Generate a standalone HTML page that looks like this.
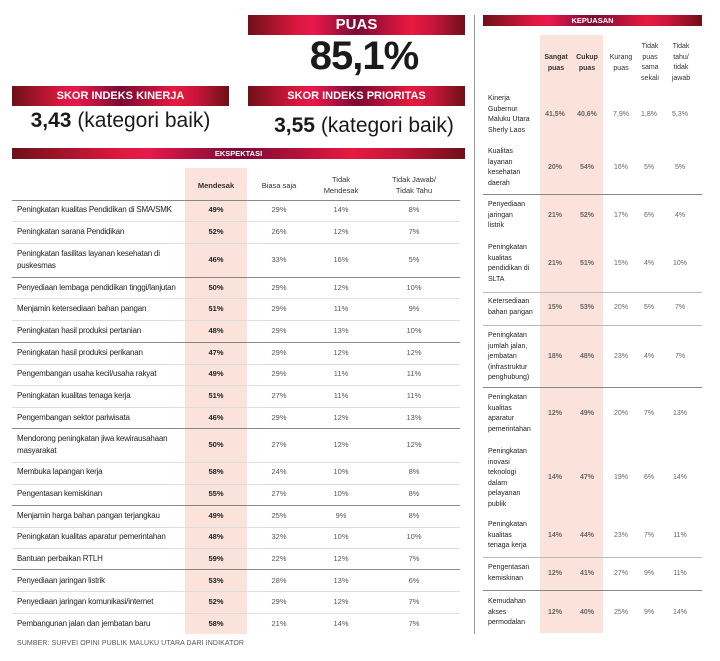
<!DOCTYPE html>
<html><head><meta charset="utf-8"><style>
*{margin:0;padding:0;box-sizing:border-box}
body{width:720px;height:661px;background:#fff;position:relative;overflow:hidden;font-family:"Liberation Sans",sans-serif;color:#1a1a1a}
.a{position:absolute}
.ban{position:absolute;background:linear-gradient(90deg,#6e1018 0%,#d8173c 22%,#e8194a 30%,#7a0a35 50%,#e8193f 75%,#c8153a 85%,#6e1018 100%);color:#fff;font-weight:bold;text-align:center}
.pk{position:absolute;background:#fbe3db}
.ln{position:absolute;height:1px;background:#ddd}
.dk{background:#888}
.l{position:absolute;left:17px;font-size:8px;line-height:12px;letter-spacing:-0.2px;color:#222}
.v{position:absolute;font-size:7.5px;line-height:12px;text-align:center;width:50px;color:#555}
.b{font-weight:bold;color:#222}
.h{position:absolute;font-size:7.5px;line-height:11px;text-align:center;color:#333}
.rl{position:absolute;left:488px;font-size:7px;line-height:10.5px;color:#222;width:50px}
.rv{position:absolute;font-size:7px;line-height:10px;text-align:center;width:30px;color:#666}
</style></head><body>
<div class="ban" style="left:248px;top:15px;width:217px;height:20px;font-size:15px;line-height:20px">PUAS</div>
<div class="a" style="left:248px;top:35px;width:232px;text-align:center;font-size:40px;font-weight:bold;line-height:42px;letter-spacing:-1px">85,1%</div>
<div class="ban" style="left:12px;top:86px;width:217px;height:20px;font-size:11px;line-height:20px">SKOR INDEKS KINERJA</div>
<div class="ban" style="left:248px;top:86px;width:217px;height:20px;font-size:11px;line-height:20px">SKOR INDEKS PRIORITAS</div>
<div class="a" style="left:12px;top:108px;width:217px;text-align:center;font-size:21px;line-height:26px"><b>3,43</b> (kategori baik)</div>
<div class="a" style="left:248px;top:113px;width:232px;text-align:center;font-size:21px;line-height:26px"><b>3,55</b> (kategori baik)</div>
<div class="ban" style="left:12px;top:148px;width:453px;height:11px;font-size:7.5px;line-height:11px">EKSPEKTASI</div>
<div class="a" style="left:474px;top:15px;width:1px;height:619px;background:#999"></div>

<div class="pk" style="left:185px;top:168px;width:62px;height:466px"></div>
<div class="h b" style="left:191px;top:180px;width:50px">Mendesak</div>
<div class="h" style="left:254px;top:180px;width:50px">Biasa saja</div>
<div class="h" style="left:311px;top:174px;width:60px">Tidak<br>Mendesak</div>
<div class="h" style="left:379px;top:174px;width:70px">Tidak Jawab/<br>Tidak Tahu</div>
<div class="ln dk" style="left:12px;top:200px;width:448px"></div>
<div class="ln" style="left:12px;top:221px;width:448px"></div>
<div class="ln" style="left:12px;top:243px;width:448px"></div>
<div class="ln dk" style="left:12px;top:277px;width:448px"></div>
<div class="ln" style="left:12px;top:298px;width:448px"></div>
<div class="ln" style="left:12px;top:320px;width:448px"></div>
<div class="ln dk" style="left:12px;top:342px;width:448px"></div>
<div class="ln" style="left:12px;top:364px;width:448px"></div>
<div class="ln" style="left:12px;top:385px;width:448px"></div>
<div class="ln" style="left:12px;top:407px;width:448px"></div>
<div class="ln dk" style="left:12px;top:428px;width:448px"></div>
<div class="ln" style="left:12px;top:462px;width:448px"></div>
<div class="ln" style="left:12px;top:484px;width:448px"></div>
<div class="ln dk" style="left:12px;top:505px;width:448px"></div>
<div class="ln" style="left:12px;top:527px;width:448px"></div>
<div class="ln" style="left:12px;top:548px;width:448px"></div>
<div class="ln dk" style="left:12px;top:569px;width:448px"></div>
<div class="ln" style="left:12px;top:591px;width:448px"></div>
<div class="ln" style="left:12px;top:613px;width:448px"></div>

<div class="l" style="top:204px">Peningkatan kualitas Pendidikan di SMA/SMK</div><div class="v b" style="left:191px;top:204px">49%</div><div class="v" style="left:254px;top:204px">29%</div><div class="v" style="left:316px;top:204px">14%</div><div class="v" style="left:389px;top:204px">8%</div>
<div class="l" style="top:226px">Peningkatan sarana Pendidikan</div><div class="v b" style="left:191px;top:226px">52%</div><div class="v" style="left:254px;top:226px">26%</div><div class="v" style="left:316px;top:226px">12%</div><div class="v" style="left:389px;top:226px">7%</div>
<div class="l" style="top:248px">Peningkatan fasilitas layanan kesehatan di<br>puskesmas</div><div class="v b" style="left:191px;top:254px">46%</div><div class="v" style="left:254px;top:254px">33%</div><div class="v" style="left:316px;top:254px">16%</div><div class="v" style="left:389px;top:254px">5%</div>
<div class="l" style="top:282px">Penyediaan lembaga pendidikan tinggi/lanjutan</div><div class="v b" style="left:191px;top:282px">50%</div><div class="v" style="left:254px;top:282px">29%</div><div class="v" style="left:316px;top:282px">12%</div><div class="v" style="left:389px;top:282px">10%</div>
<div class="l" style="top:303px">Menjamin ketersediaan bahan pangan</div><div class="v b" style="left:191px;top:303px">51%</div><div class="v" style="left:254px;top:303px">29%</div><div class="v" style="left:316px;top:303px">11%</div><div class="v" style="left:389px;top:303px">9%</div>
<div class="l" style="top:325px">Peningkatan hasil produksi pertanian</div><div class="v b" style="left:191px;top:325px">48%</div><div class="v" style="left:254px;top:325px">29%</div><div class="v" style="left:316px;top:325px">13%</div><div class="v" style="left:389px;top:325px">10%</div>
<div class="l" style="top:347px">Peningkatan hasil produksi perikanan</div><div class="v b" style="left:191px;top:347px">47%</div><div class="v" style="left:254px;top:347px">29%</div><div class="v" style="left:316px;top:347px">12%</div><div class="v" style="left:389px;top:347px">12%</div>
<div class="l" style="top:368px">Pengembangan usaha kecil/usaha rakyat</div><div class="v b" style="left:191px;top:368px">49%</div><div class="v" style="left:254px;top:368px">29%</div><div class="v" style="left:316px;top:368px">11%</div><div class="v" style="left:389px;top:368px">11%</div>
<div class="l" style="top:390px">Peningkatan kualitas tenaga kerja</div><div class="v b" style="left:191px;top:390px">51%</div><div class="v" style="left:254px;top:390px">27%</div><div class="v" style="left:316px;top:390px">11%</div><div class="v" style="left:389px;top:390px">11%</div>
<div class="l" style="top:412px">Pengembangan sektor pariwisata</div><div class="v b" style="left:191px;top:412px">46%</div><div class="v" style="left:254px;top:412px">29%</div><div class="v" style="left:316px;top:412px">12%</div><div class="v" style="left:389px;top:412px">13%</div>
<div class="l" style="top:433px">Mendorong peningkatan jiwa kewirausahaan<br>masyarakat</div><div class="v b" style="left:191px;top:439px">50%</div><div class="v" style="left:254px;top:439px">27%</div><div class="v" style="left:316px;top:439px">12%</div><div class="v" style="left:389px;top:439px">12%</div>
<div class="l" style="top:466px">Membuka lapangan kerja</div><div class="v b" style="left:191px;top:466px">58%</div><div class="v" style="left:254px;top:466px">24%</div><div class="v" style="left:316px;top:466px">10%</div><div class="v" style="left:389px;top:466px">8%</div>
<div class="l" style="top:488px">Pengentasan kemiskinan</div><div class="v b" style="left:191px;top:488px">55%</div><div class="v" style="left:254px;top:488px">27%</div><div class="v" style="left:316px;top:488px">10%</div><div class="v" style="left:389px;top:488px">8%</div>
<div class="l" style="top:510px">Menjamin harga bahan pangan terjangkau</div><div class="v b" style="left:191px;top:510px">49%</div><div class="v" style="left:254px;top:510px">25%</div><div class="v" style="left:316px;top:510px">9%</div><div class="v" style="left:389px;top:510px">8%</div>
<div class="l" style="top:531px">Peningkatan kualitas aparatur pemerintahan</div><div class="v b" style="left:191px;top:531px">48%</div><div class="v" style="left:254px;top:531px">32%</div><div class="v" style="left:316px;top:531px">10%</div><div class="v" style="left:389px;top:531px">10%</div>
<div class="l" style="top:553px">Bantuan perbaikan RTLH</div><div class="v b" style="left:191px;top:553px">59%</div><div class="v" style="left:254px;top:553px">22%</div><div class="v" style="left:316px;top:553px">12%</div><div class="v" style="left:389px;top:553px">7%</div>
<div class="l" style="top:575px">Penyediaan jaringan listrik</div><div class="v b" style="left:191px;top:575px">53%</div><div class="v" style="left:254px;top:575px">28%</div><div class="v" style="left:316px;top:575px">13%</div><div class="v" style="left:389px;top:575px">6%</div>
<div class="l" style="top:596px">Penyediaan jaringan komunikasi/internet</div><div class="v b" style="left:191px;top:596px">52%</div><div class="v" style="left:254px;top:596px">29%</div><div class="v" style="left:316px;top:596px">12%</div><div class="v" style="left:389px;top:596px">7%</div>
<div class="l" style="top:618px">Pembangunan jalan dan jembatan baru</div><div class="v b" style="left:191px;top:618px">58%</div><div class="v" style="left:254px;top:618px">21%</div><div class="v" style="left:316px;top:618px">14%</div><div class="v" style="left:389px;top:618px">7%</div>
<div class="a" style="left:17px;top:640px;font-size:7px;color:#555;letter-spacing:0.1px">SUMBER: SURVEI OPINI PUBLIK MALUKU UTARA DARI INDIKATOR</div>

<div class="ban" style="left:483px;top:15px;width:219px;height:11px;font-size:7.5px;line-height:11px">KEPUASAN</div>
<div class="pk" style="left:540px;top:35px;width:63px;height:598px"></div>
<div class="h b" style="left:540px;top:52px;width:32px;font-size:7px">Sangat<br>puas</div>
<div class="h b" style="left:571px;top:52px;width:32px;font-size:7px">Cukup<br>puas</div>
<div class="h" style="left:604px;top:52px;width:34px;font-size:7px">Kurang<br>puas</div>
<div class="h" style="left:636px;top:42px;width:28px;font-size:7px;line-height:10.5px">Tidak<br>puas<br>sama<br>sekali</div>
<div class="h" style="left:666px;top:42px;width:30px;font-size:7px;line-height:10.5px">Tidak<br>tahu/<br>tidak<br>jawab</div>
<div class="ln dk" style="left:483px;top:194px;width:219px"></div>
<div class="ln" style="left:483px;top:292px;width:219px;background:#bbb"></div>
<div class="ln" style="left:483px;top:325px;width:219px;background:#bbb"></div>
<div class="ln dk" style="left:483px;top:387px;width:219px"></div>
<div class="ln" style="left:483px;top:557px;width:219px;background:#bbb"></div>
<div class="ln dk" style="left:483px;top:590px;width:219px"></div>

<div class="rl" style="top:94px">Kinerja<br>Gubernur<br>Maluku Utara<br>Sherly Laos</div>
<div class="rv b" style="left:540px;top:110px">41,5%</div><div class="rv b" style="left:572px;top:110px">40,6%</div><div class="rv" style="left:606px;top:110px">7,9%</div><div class="rv" style="left:634px;top:110px">1,8%</div><div class="rv" style="left:665px;top:110px">5,3%</div>
<div class="rl" style="top:147px">Kualitas<br>layanan<br>kesehatan<br>daerah</div>
<div class="rv b" style="left:540px;top:163px">20%</div><div class="rv b" style="left:572px;top:163px">54%</div><div class="rv" style="left:606px;top:163px">16%</div><div class="rv" style="left:634px;top:163px">5%</div><div class="rv" style="left:665px;top:163px">5%</div>
<div class="rl" style="top:200px">Penyediaan<br>jaringan<br>listrik</div>
<div class="rv b" style="left:540px;top:211px">21%</div><div class="rv b" style="left:572px;top:211px">52%</div><div class="rv" style="left:606px;top:211px">17%</div><div class="rv" style="left:634px;top:211px">6%</div><div class="rv" style="left:665px;top:211px">4%</div>
<div class="rl" style="top:243px">Peningkatan<br>kualitas<br>pendidikan di<br>SLTA</div>
<div class="rv b" style="left:540px;top:259px">21%</div><div class="rv b" style="left:572px;top:259px">51%</div><div class="rv" style="left:606px;top:259px">15%</div><div class="rv" style="left:634px;top:259px">4%</div><div class="rv" style="left:665px;top:259px">10%</div>
<div class="rl" style="top:297px">Ketersediaan<br>bahan pangan</div>
<div class="rv b" style="left:540px;top:303px">15%</div><div class="rv b" style="left:572px;top:303px">53%</div><div class="rv" style="left:606px;top:303px">20%</div><div class="rv" style="left:634px;top:303px">5%</div><div class="rv" style="left:665px;top:303px">7%</div>
<div class="rl" style="top:331px">Peningkatan<br>jumlah jalan,<br>jembatan<br>(infrastruktur<br>penghubung)</div>
<div class="rv b" style="left:540px;top:352px">18%</div><div class="rv b" style="left:572px;top:352px">48%</div><div class="rv" style="left:606px;top:352px">23%</div><div class="rv" style="left:634px;top:352px">4%</div><div class="rv" style="left:665px;top:352px">7%</div>
<div class="rl" style="top:393px">Peningkatan<br>kualitas<br>aparatur<br>pemerintahan</div>
<div class="rv b" style="left:540px;top:409px">12%</div><div class="rv b" style="left:572px;top:409px">49%</div><div class="rv" style="left:606px;top:409px">20%</div><div class="rv" style="left:634px;top:409px">7%</div><div class="rv" style="left:665px;top:409px">13%</div>
<div class="rl" style="top:447px">Peningkatan<br>inovasi<br>teknologi<br>dalam<br>pelayanan<br>publik</div>
<div class="rv b" style="left:540px;top:473px">14%</div><div class="rv b" style="left:572px;top:473px">47%</div><div class="rv" style="left:606px;top:473px">19%</div><div class="rv" style="left:634px;top:473px">6%</div><div class="rv" style="left:665px;top:473px">14%</div>
<div class="rl" style="top:520px">Peningkatan<br>kualitas<br>tenaga kerja</div>
<div class="rv b" style="left:540px;top:531px">14%</div><div class="rv b" style="left:572px;top:531px">44%</div><div class="rv" style="left:606px;top:531px">23%</div><div class="rv" style="left:634px;top:531px">7%</div><div class="rv" style="left:665px;top:531px">11%</div>
<div class="rl" style="top:563px">Pengentasan<br>kemiskinan</div>
<div class="rv b" style="left:540px;top:569px">12%</div><div class="rv b" style="left:572px;top:569px">41%</div><div class="rv" style="left:606px;top:569px">27%</div><div class="rv" style="left:634px;top:569px">9%</div><div class="rv" style="left:665px;top:569px">11%</div>
<div class="rl" style="top:597px">Kemudahan<br>akses<br>permodalan</div>
<div class="rv b" style="left:540px;top:608px">12%</div><div class="rv b" style="left:572px;top:608px">40%</div><div class="rv" style="left:606px;top:608px">25%</div><div class="rv" style="left:634px;top:608px">9%</div><div class="rv" style="left:665px;top:608px">14%</div>
</body></html>
